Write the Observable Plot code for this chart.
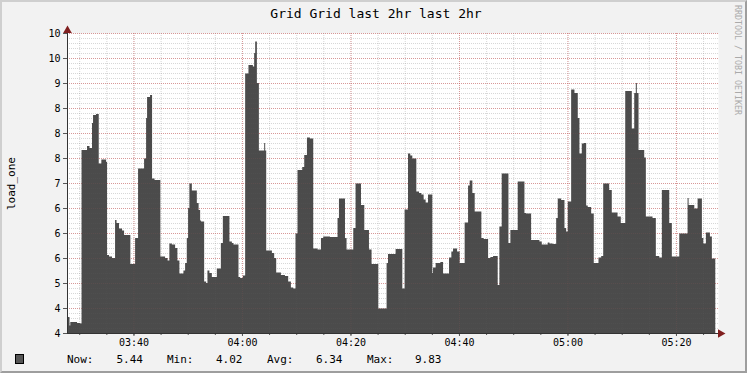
<!DOCTYPE html>
<html>
<head>
<meta charset="utf-8">
<script src="https://cdn.jsdelivr.net/npm/d3@7"></script>
<script src="https://cdn.jsdelivr.net/npm/@observablehq/plot@0.6"></script>
<style>
  html, body { margin: 0; padding: 0; background: #f2f2f2; }
  #wrap { position: relative; width: 747px; height: 373px; background: #f2f2f2; overflow: hidden;
          font-family: "DejaVu Sans Mono", monospace; color: #000; }
  #wrap svg { position: absolute; left: 0; top: 0; }
  .abs { position: absolute; white-space: pre; }
  #frame { position: absolute; left: 0; top: 0; width: 747px; height: 373px; box-sizing: border-box;
           border-style: solid; border-width: 2px; border-color: #cfcfcf #9e9e9e #9e9e9e #cfcfcf; pointer-events: none; }
</style>
</head>
<body>
<div id="wrap"></div>
<script>
// ---- data (minutes after 03:27:45, load_one value; step series) ----
const title = "Grid Grid last 2hr last 2hr";
const yLabel = "load_one";
const watermark = "RRDTOOL / TOBI OETIKER";
const startClock = [3, 27, 45];
const endMinutes = 120;

const minutes = [
  0, 0.18, 0.46, 0.61, 1.85, 2.45, 2.68, 3.69, 4.15, 4.61, 4.80, 5.35, 5.85, 6.33, 7.20, 7.38, 7.75, 8.30,
  8.86, 9.13, 9.59, 10.15, 10.52, 11.68, 12.55, 13.10, 14.21, 14.58, 14.76, 15.31, 15.68, 16.14, 17.21,
  18.08, 18.54, 18.87, 19.32, 19.93, 20.35, 20.72, 21.46, 21.77, 22.08, 22.32, 22.56, 23.01, 23.93, 24.26,
  24.54, 24.72, 25.28, 25.65, 25.89, 26.25, 26.70, 27.62, 28.36, 28.73, 29.94, 30.39, 30.68, 31.61, 31.92,
  32.42, 32.84, 33.45, 34.26, 34.50, 34.69, 35.00, 35.37, 36.35, 36.53, 36.72, 37.77, 38.19, 38.56, 39.43,
  40.17, 40.77, 41.27, 41.70, 42.12, 42.49, 43.36, 43.73, 44.23, 44.78, 45.39, 46.18, 46.81, 47.23, 48.47,
  49.87, 50.13, 51.24, 51.53, 52.77, 53.19, 54.19, 54.80, 55.66, 56.14, 57.38, 58.91, 59.17, 60.57, 61.81,
  62.23, 62.86, 63.28, 63.65, 64.39, 64.89, 65.31, 65.74, 66.11, 66.55, 67.34, 67.47, 67.95, 68.82, 69.32,
  70.42, 70.85, 71.16, 71.90, 72.38, 73.30, 73.93, 74.23, 74.72, 75.15, 76.38, 76.81, 77.62, 78.04, 78.54,
  79.39, 79.70, 80.13, 81.37, 81.73, 83.08, 84.32, 84.63, 85.55, 87.08, 87.51, 88.62, 88.93, 89.54, 90.17,
  90.46, 91.09, 91.70, 92.01, 92.31, 92.93, 93.54, 94.15, 94.46, 94.89, 95.26, 95.70, 95.99, 96.62, 97.10,
  97.97, 98.47, 98.84, 99.94, 100.42, 101.48, 102.08, 102.90, 104.11, 104.56, 104.85, 105.04, 105.35,
  106.40, 106.70, 107.93, 108.54, 109.17, 109.65, 111.01, 111.49, 112.86, 114.39, 114.58, 115.63, 116.24,
  117.03, 117.29, 117.77, 118.51, 118.87, 119.50
];
const load = [
  4.5, 4.32, 4.15, 4.22, 4.2, 4.19, 7.66, 7.74, 7.7, 8.2, 8.36, 8.38, 7.39, 7.47, 7.42, 5.56, 5.53, 5.5,
  6.26, 6.2, 6.09, 6.05, 5.96, 5.38, 5.9, 7.29, 7.49, 8.3, 8.72, 8.76, 7.09, 7.06, 5.53,
  5.5, 5.45, 5.79, 5.77, 5.7, 5.45, 5.19, 5.25, 5.4, 5.9, 6.5, 6.99, 6.85, 6.6, 6.46,
  6.25, 6.23, 5.03, 5.0, 5.25, 5.2, 5.12, 5.29, 5.8, 6.34, 5.83, 5.8, 5.77, 5.12, 5.1,
  5.15, 9.19, 9.36, 9.33, 9.6, 9.83, 9.0, 7.65, 7.8, 7.65, 5.65, 5.6, 5.5, 5.21, 5.16,
  5.14, 5.03, 4.91, 4.89, 5.99, 7.26, 7.32, 7.56, 7.91, 7.89, 5.69, 5.67, 5.9, 5.93, 5.92,
  6.3, 6.69, 5.9, 5.67, 6.1, 6.99, 6.56, 6.06, 5.67, 5.38, 4.49, 5.4, 5.58, 5.68, 4.89,
  6.47, 7.59, 7.55, 7.49, 6.83, 6.8, 6.77, 6.67, 6.61, 6.77, 5.2, 5.31, 5.4, 5.42, 5.19,
  5.51, 5.63, 5.69, 5.63, 5.4, 6.21, 6.95, 7.05, 6.8, 6.43, 5.9, 5.88, 5.5, 5.52, 5.54,
  4.96, 6.13, 7.19, 5.8, 6.06, 7.03, 6.4, 6.39, 5.86, 5.83, 5.77, 5.81, 5.79, 5.78, 6.3,
  6.69, 6.66, 6.1, 6.03, 6.63, 8.87, 8.8, 8.3, 7.59, 7.79, 7.8, 6.55, 6.52, 6.39, 5.4,
  5.51, 5.54, 6.99, 6.86, 6.41, 6.33, 6.2, 8.84, 8.09, 8.8, 9.0, 8.8, 7.66,
  7.51, 6.33, 6.3, 5.54, 5.51, 6.86, 6.2, 5.53, 5.99, 6.7, 6.56, 6.49, 6.69,
  5.9, 5.79, 6.01, 5.93, 5.49, 5.49
];

const yTicks = [4, 4.5, 5, 5.5, 6, 6.5, 7, 7.5, 8, 8.5, 9, 9.5, 10];
const yTickLabels = ["4", "4", "5", "6", "6", "6", "7", "8", "8", "8", "9", "10", "10"];
const xTickLabels = ["03:40", "04:00", "04:20", "04:40", "05:00", "05:20"];

const legendLabels = ["Now:", "Min:", "Avg:", "Max:"];
const legendValues = ["5.44", "4.02", "6.34", "9.83"];

// ---- build ----
const base = Date.UTC(2000, 0, 1, startClock[0], startClock[1], startClock[2]);
const toDate = m => new Date(base + m * 60000);
const clockToDate = s => { const [h, m] = s.split(":").map(Number); return new Date(Date.UTC(2000, 0, 1, h, m, 0)); };
const data = minutes.map((m, i) => ({t: toDate(m), v: load[i]}));
const t0 = toDate(0), t1 = toDate(endMinutes);

const xMajor = xTickLabels.map(clockToDate);
const xMinor = d3.utcMinute.every(5).range(t0, t1);
const yMinor = d3.range(41, 101).map(d => d / 10);
const yLabelOf = new Map(yTicks.map((v, i) => [v, yTickLabels[i]]));
const xLabelOf = new Map(xMajor.map((d, i) => [+d, xTickLabels[i]]));

const gridMinor = {stroke: "#8f8f8f", strokeOpacity: 0.32, strokeDasharray: "1,1"};
const gridMajor = {stroke: "#de4f4f", strokeOpacity: 0.42, strokeDasharray: "1,1"};
const faintMinor = {stroke: "#9a9a9a", strokeOpacity: 0.05, strokeDasharray: "1,1"};
const faintMajor = {stroke: "#de4f4f", strokeOpacity: 0.08, strokeDasharray: "1,1"};

const chart = Plot.plot({
  width: 747, height: 373,
  marginLeft: 67, marginRight: 29, marginTop: 33, marginBottom: 40,
  style: {background: "none", overflow: "visible", fontFamily: "DejaVu Sans Mono", fontSize: "10px", color: "#000"},
  x: {type: "utc", domain: [t0, t1]},
  y: {domain: [4, 10]},
  marks: [
    Plot.frame({fill: "white", stroke: null}),
    Plot.ruleY(yMinor, gridMinor),
    Plot.ruleX(xMinor, gridMinor),
    Plot.ruleY(yTicks, gridMajor),
    Plot.ruleX(xMajor, gridMajor),
    Plot.areaY(data, {x: "t", y1: 4, y2: "v", curve: "step-after", fill: "#4b4b4b"}),
    Plot.ruleY(yMinor, faintMinor),
    Plot.ruleX(xMinor, faintMinor),
    Plot.ruleY(yTicks, faintMajor),
    Plot.ruleX(xMajor, faintMajor),
    Plot.axisY(yTicks, {tickSize: 4, tickPadding: 3, stroke: "#555", fill: "#000", fontSize: 10,
                        tickFormat: d => yLabelOf.get(d), label: null}),
    Plot.axisX(xMinor, {tickSize: 2, stroke: "#555", tickFormat: () => "", label: null}),
    Plot.axisX(xMajor, {tickSize: 3, tickPadding: 2, stroke: "#555", fill: "#000", fontSize: 10,
                        tickFormat: d => xLabelOf.get(+d), label: null}),
    Plot.ruleX([t0], {stroke: "#333"}),
    Plot.ruleY([4], {stroke: "#333"}),
    Plot.dot([0], {x: () => t0, y: () => 10, dy: -3, symbol: "triangle", r: 3.2, fill: "#801f1f", stroke: null}),
    Plot.dot([0], {x: () => t1, y: () => 4, dx: 2, rotate: 90, symbol: "triangle", r: 3.2, fill: "#801f1f", stroke: null})
  ]
});

const wrap = document.getElementById("wrap");
wrap.appendChild(chart);

function addText(txt, css) {
  const d = document.createElement("div");
  d.className = "abs";
  d.textContent = txt;
  Object.assign(d.style, css);
  wrap.appendChild(d);
  return d;
}
addText(title, {left: "0px", top: "6px", width: "752px", textAlign: "center", fontSize: "13px", lineHeight: "15px"});
addText(yLabel, {left: "-39px", top: "176.5px", width: "100px", textAlign: "center", fontSize: "11px",
                 lineHeight: "13px", transform: "rotate(-90deg)", transformOrigin: "50% 50%"});
addText(watermark, {left: "743px", top: "5px", fontSize: "8.3px", lineHeight: "10px", color: "#aaaaaa",
                    transform: "rotate(90deg)", transformOrigin: "0 0"});

const sq = document.createElement("div");
Object.assign(sq.style, {position: "absolute", left: "15px", top: "354px", width: "7px", height: "8px",
                         background: "#555", border: "1px solid #000"});
wrap.appendChild(sq);

const labelX = [67, 167, 267, 367];
const valueX = [116.5, 216, 316, 415];
legendLabels.forEach((l, i) => {
  addText(l, {left: labelX[i] + "px", top: "352.7px", fontSize: "11px", lineHeight: "13px"});
  addText(legendValues[i], {left: valueX[i] + "px", top: "352.7px", fontSize: "11px", lineHeight: "13px"});
});

const frame = document.createElement("div");
frame.id = "frame";
wrap.appendChild(frame);
</script>
</body>
</html>
